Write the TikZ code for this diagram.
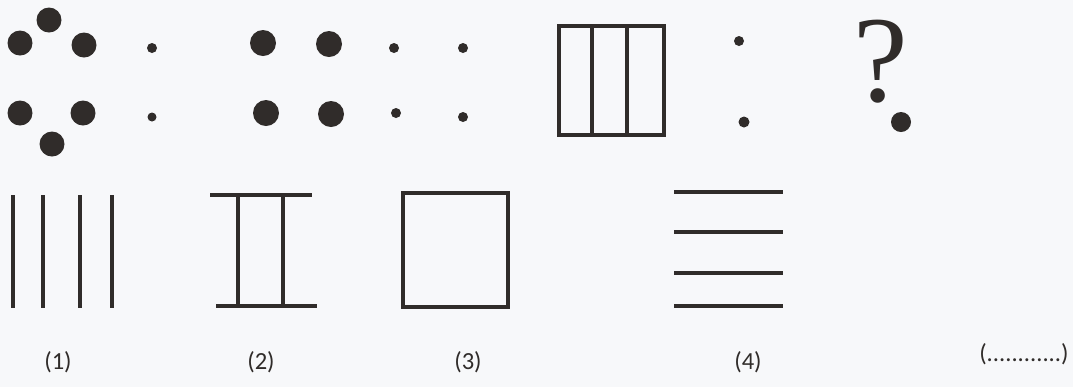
\documentclass[tikz,border=0pt]{standalone}
\usepackage{fontspec}
\setmainfont{Carlito}
\newfontfamily\qfont{Liberation Serif}
\usetikzlibrary{positioning}

\definecolor{ink}{RGB}{48,44,42}
\definecolor{paper}{RGB}{247,248,250}

\tikzset{
  bigdot/.style={fill=ink},
  smalldot/.style={fill=ink},
  stroke/.style={draw=ink, line width=1.9pt},
  numlabel/.style={font=\fontsize{14}{16}\selectfont, text=ink}
}

\begin{document}
\begin{tikzpicture}[x=0.02cm, y=-0.02cm]
% Background
\fill[paper] (0,0) rectangle (1073,387);
\useasboundingbox (0,0) rectangle (1073,387);

% Top row: first group of dots
\fill[bigdot] (49,20) circle (12.5);
\fill[bigdot] (20,43) circle (12.5);
\fill[bigdot] (84,45) circle (12.5);
\fill[bigdot] (20,113) circle (12.5);
\fill[bigdot] (83,113) circle (12.5);
\fill[bigdot] (52,144) circle (12.5);
\fill[smalldot] (152,48) circle (5);
\fill[smalldot] (152,117) circle (4.5);

% Top row: second group of dots
\fill[bigdot] (263,43) circle (13);
\fill[bigdot] (329,44) circle (13);
\fill[bigdot] (266,113) circle (13);
\fill[bigdot] (331,114) circle (13);
\fill[smalldot] (394,48) circle (5);
\fill[smalldot] (463,48) circle (5);
\fill[smalldot] (396,113) circle (5);
\fill[smalldot] (463,117) circle (5);

% Top row: box with three cells
\draw[stroke] (559,26) rectangle (664,135);
\draw[stroke] (592,26) -- (592,135);
\draw[stroke] (627,26) -- (627,135);
\fill[smalldot] (739,41) circle (5);
\fill[smalldot] (744,122) circle (5.5);

% Top row: question
\node[anchor=base, text=ink, font=\qfont\fontsize{70}{74}\selectfont] (q) at (881,101) {?};
\fill[bigdot] (901,122) circle (10);

% Answer (1)
\foreach \xx in {13,43,80,112}
  \draw[stroke] (\xx,195) -- (\xx,308);

% Answer (2)
\draw[stroke] (210,195) -- (312,195);
\draw[stroke] (216,306) -- (317,306);
\draw[stroke] (238,195) -- (238,306);
\draw[stroke] (283,195) -- (283,306);

% Answer (3)
\draw[stroke] (403,193) rectangle (508,307);

% Answer (4)
\foreach \yy in {192,232,273,306}
  \draw[stroke] (674,\yy) -- (783,\yy);

% Labels
\node[numlabel] (l1) at (58,362) {(1)};
\node[numlabel] (l2) at (261,362) {(2)};
\node[numlabel] (l3) at (468,362) {(3)};
\node[numlabel] (l4) at (748,362) {(4)};
\node[numlabel] (ans) at (1024,354) {(............)};
\end{tikzpicture}
\end{document}
